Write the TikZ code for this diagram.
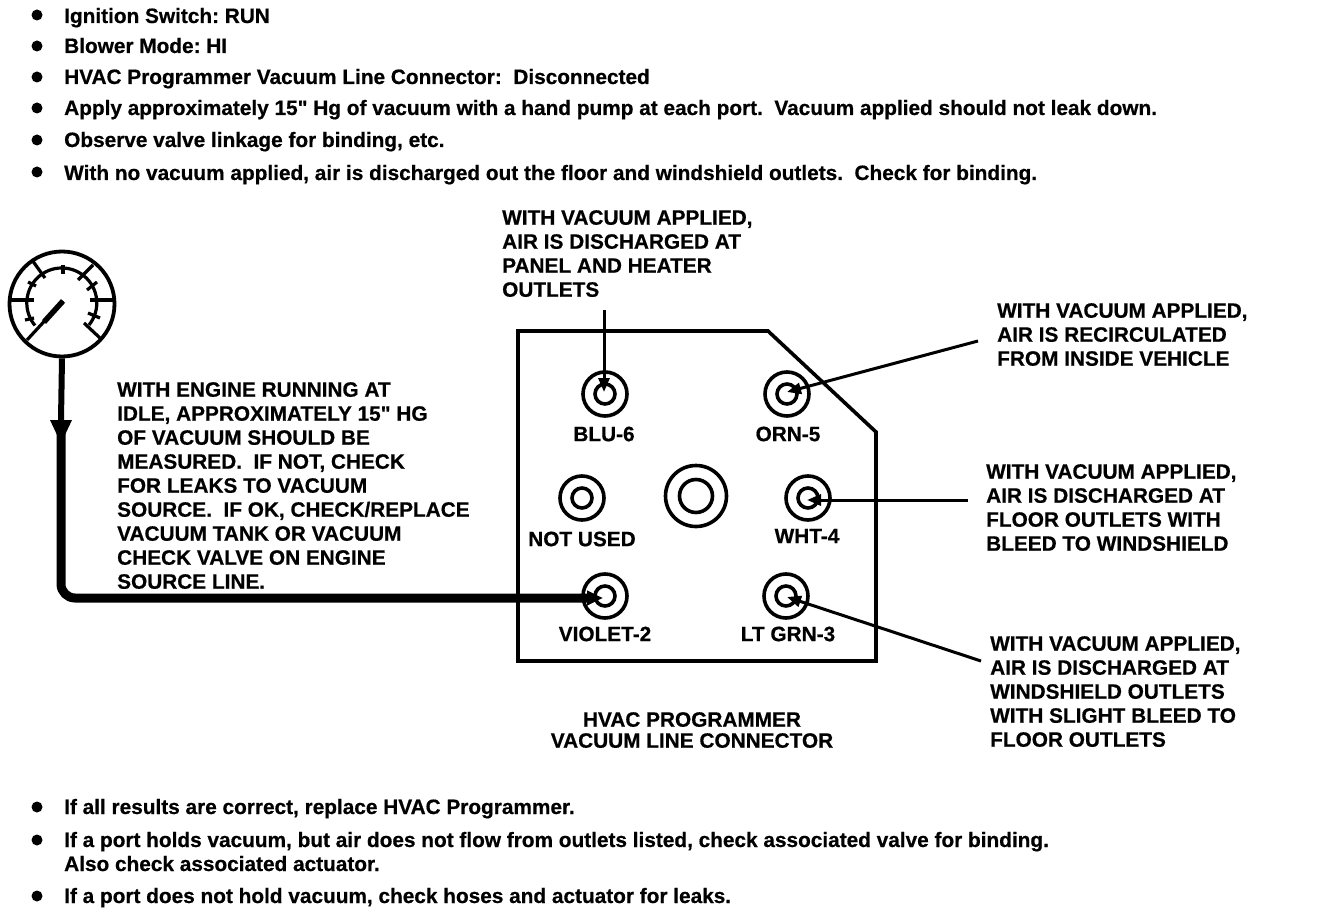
\documentclass[tikz,border=0pt]{standalone}
\usepackage{fontspec}
\setmainfont{Liberation Sans}[Ligatures=TeXOff,BoldFont={Liberation Sans Bold},BoldFeatures={FakeBold=0.6}]
\usetikzlibrary{arrows.meta}
\tikzset{
  x=1pt,y=-1pt,
  body/.style={anchor=base west,inner sep=0pt,font=\fontsize{20.8}{24}\selectfont\bfseries\frenchspacing},
  blk/.style={anchor=north west,inner sep=0pt,align=left,font=\fontsize{20.8}{24}\selectfont\bfseries\frenchspacing},
  lbl/.style={anchor=center,inner sep=0pt,font=\fontsize{20.8}{24}\selectfont\bfseries\frenchspacing},
  dot/.style={circle,fill=black,inner sep=0pt,minimum size=11pt},
  outerport/.style={circle,draw=black,line width=3.6pt,inner sep=0pt,minimum size=44pt},
  innerport/.style={circle,draw=black,line width=3.6pt,inner sep=0pt,minimum size=20pt},
  leader/.style={line width=3pt,-{Triangle[length=14pt,width=11pt]}},
  pipe/.style={line width=9pt,rounded corners=14pt,-{Triangle[length=16pt,width=14pt]}},
  gaugeline/.style={line width=3.2pt},
}
\begin{document}
\begin{tikzpicture}
\useasboundingbox (0,0) rectangle (1328,912);
% bullets
\foreach \n/\y in {a/15,b/46,c/77,d/108,e/140,f/172,g/807,h/840,i/896}
  \node[dot] (b\n) at (37,\y) {};
\node[body] (t1) at (64,23) {Ignition Switch: RUN};
\node[body] (t2) at (64,53) {Blower Mode: HI};
\node[body] (t3) at (64,84) {HVAC Programmer Vacuum Line Connector:\ \ Disconnected};
\node[body] (t4) at (64,115) {Apply approximately 15" Hg of vacuum with a hand pump at each port.\ \ Vacuum applied should not leak down.};
\node[body] (t5) at (64,147) {Observe valve linkage for binding, etc.};
\node[body] (t6) at (64,180) {With no vacuum applied, air is discharged out the floor and windshield outlets.\ \ Check for binding.};
\node[body] (t7) at (64,814) {If all results are correct, replace HVAC Programmer.};
\node[body] (t8) at (64,847) {If a port holds vacuum, but air does not flow from outlets listed, check associated valve for binding.};
\node[body] (t9) at (64,871) {Also check associated actuator.};
\node[body] (t10) at (64,903) {If a port does not hold vacuum, check hoses and actuator for leaks.};
% gauge
\node[circle,draw=black,line width=3.8pt,inner sep=0pt,minimum size=105pt] (gauge) at (62,304) {};
\draw[gaugeline] (89,325) arc[start angle=39,end angle=-220,radius=35];
\draw[gaugeline] (11,300) -- (34,300);
\draw[gaugeline] (114,300) -- (90,300);
\draw[gaugeline] (32,260) -- (45,278);
\draw[gaugeline] (93,265) -- (78,280);
\draw[gaugeline] (100,338) -- (84,323);
\draw[gaugeline] (27,340) -- (63,301);
\draw[line width=5.5pt] (44,322) -- (63,301);
\draw[gaugeline] (63,265) -- (63,274);
\draw[gaugeline] (28,282) -- (36,286);
\draw[gaugeline] (97,282) -- (87,290);
\draw[gaugeline] (25,320) -- (34,318);
\draw[gaugeline] (100,318) -- (88,313);
\draw[line width=6pt] (gauge.south) -- (61,420);
\fill (50,420) -- (72,420) -- (64,437) -- (58,437) -- cycle;
% pipe
\coordinate (pipetop) at (61,420);
\coordinate (pipecorner) at (61,598);
\coordinate (tip2) at (603,598);
\draw[pipe] (pipetop) -- (pipecorner) -- (tip2);
% connector
\draw[line width=3.6pt,line join=miter] (518,331) -- (768,331) -- (876,432) -- (876,661) -- (518,661) -- cycle;
\node[outerport] (p6) at (605,394) {}; \node[innerport] (i6) at (605,394) {};
\node[outerport] (p5) at (787,394) {}; \node[innerport] (i5) at (787,394) {};
\node[outerport] (pn) at (582,498) {}; \node[innerport] (in) at (582,498) {};
\node[outerport,minimum size=61pt] (pc) at (696,496) {}; \node[innerport,minimum size=33pt] (ic) at (696,496) {};
\node[outerport] (p4) at (808,498) {}; \node[innerport] (i4) at (808,498) {};
\node[outerport] (p2) at (605,596) {}; \node[innerport] (i2) at (605,596) {};
\node[outerport] (p3) at (786,596) {}; \node[innerport] (i3) at (786,596) {};
% port labels
\node[lbl] (l6) at (604,434) {BLU-6};
\node[lbl] (l5) at (788,434) {ORN-5};
\node[lbl] (ln) at (582,539) {NOT USED};
\node[lbl] (l4) at (807,536) {WHT-4};
\node[lbl] (l2) at (605,634) {VIOLET-2};
\node[lbl] (l3) at (788,634) {LT GRN-3};
% leaders
\coordinate (c6) at (604,310);
\coordinate (c5) at (978,341);
\coordinate (c4) at (968,500);
\coordinate (c3) at (981,661);
\coordinate (tip6) at (604,392);
\coordinate (tip5) at (787,392);
\coordinate (tip4) at (807,500);
\coordinate (tip3) at (787,597);
\draw[leader] (c6) -- (tip6);
\draw[leader] (c5) -- (tip5);
\draw[leader] (c4) -- (tip4);
\draw[leader] (c3) -- (tip3);
% text blocks
\node[blk] (n6) at (502,210) {WITH VACUUM APPLIED,\\AIR IS DISCHARGED AT\\PANEL AND HEATER\\OUTLETS};
\node[blk] (n5) at (997,303) {WITH VACUUM APPLIED,\\AIR IS RECIRCULATED\\FROM INSIDE VEHICLE};
\node[blk] (n4) at (986,464) {WITH VACUUM APPLIED,\\AIR IS DISCHARGED AT\\FLOOR OUTLETS WITH\\BLEED TO WINDSHIELD};
\node[blk] (n3) at (990,636) {WITH VACUUM APPLIED,\\AIR IS DISCHARGED AT\\WINDSHIELD OUTLETS\\WITH SLIGHT BLEED TO\\FLOOR OUTLETS};
\node[blk] (ng) at (117,382) {WITH ENGINE RUNNING AT\\IDLE, APPROXIMATELY 15" HG\\OF VACUUM SHOULD BE\\MEASURED.\ \ IF NOT, CHECK\\FOR LEAKS TO VACUUM\\SOURCE.\ \ IF OK, CHECK/REPLACE\\VACUUM TANK OR VACUUM\\CHECK VALVE ON ENGINE\\SOURCE LINE.};
\node[blk,align=center,anchor=north] (cap) at (692,712) {HVAC PROGRAMMER\\[-3pt]VACUUM LINE CONNECTOR};
\end{tikzpicture}
\end{document}
